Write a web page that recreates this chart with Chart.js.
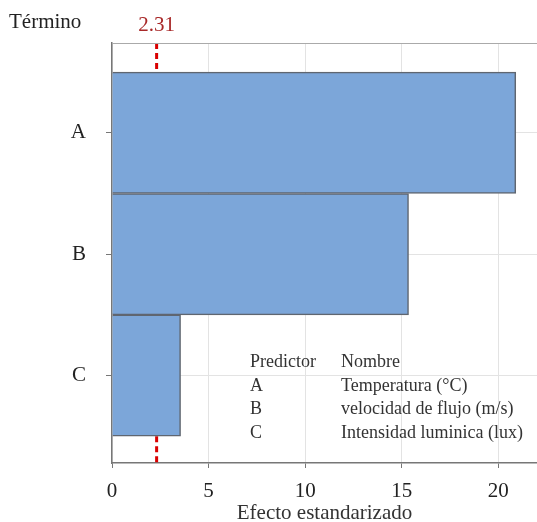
<!DOCTYPE html>
<html>
<head>
<meta charset="utf-8">
<script src="https://cdn.jsdelivr.net/npm/chart.js@4"></script>
<style>
  html, body { margin: 0; padding: 0; background: #fff; }
  #wrap { width: 537px; height: 522px; }
</style>
</head>
<body>
<div id="wrap"><canvas id="chartCanvas" width="537" height="522"></canvas></div>
<script>
// terms and standardized effects
const terms = ["A", "B", "C"];
const effects = [20.9, 15.35, 3.55];
const refValue = 2.31;
const xTicks = [0, 5, 10, 15, 20];

// predictor legend table
const predictors = ["A", "B", "C"];
const predictorNames = ["Temperatura (°C)", "velocidad de flujo (m/s)", "Intensidad luminica (lux)"];

const serif = "'Liberation Serif', 'Times New Roman', serif";

const points = effects.map(function (v, i) { return { x: v, y: i }; });

// dashed reference line, only where the bars don't cover it
const refLine = {
    id: "refLine",
    beforeDatasetsDraw(chart) {
        const ctx = chart.ctx;
        const area = chart.chartArea;
        const x = chart.scales.x.getPixelForValue(refValue);
        const bars = chart.getDatasetMeta(0).data;
        const first = bars[0], last = bars[bars.length - 1];
        const topEnd = first.y - first.height / 2;
        const botStart = last.y + last.height / 2;
        ctx.save();
        ctx.strokeStyle = "#d90000";
        ctx.lineWidth = 3;
        ctx.setLineDash([6, 4]);
        ctx.beginPath();
        ctx.moveTo(x, area.top);
        ctx.lineTo(x, topEnd);
        ctx.stroke();
        ctx.beginPath();
        ctx.moveTo(x, botStart);
        ctx.lineTo(x, area.bottom);
        ctx.stroke();
        ctx.restore();
    },
    afterDraw(chart) {
        const ctx = chart.ctx;
        const area = chart.chartArea;
        const x = chart.scales.x.getPixelForValue(refValue);
        ctx.save();
        // top frame line
        ctx.strokeStyle = "#aaa";
        ctx.lineWidth = 1;
        ctx.beginPath();
        ctx.moveTo(area.left, area.top + 0.5);
        ctx.lineTo(area.right, area.top + 0.5);
        ctx.stroke();

        ctx.textBaseline = "middle";
        ctx.font = "21px " + serif;
        ctx.fillStyle = "#a82828";
        ctx.textAlign = "center";
        ctx.fillText(refValue.toFixed(2), x, 25);

        ctx.fillStyle = "#222";
        ctx.textAlign = "left";
        ctx.fillText("Término", 9, 22);

        // legend table
        ctx.font = "18px " + serif;
        ctx.fillStyle = "#333";
        ctx.fillText("Predictor", 250, 362);
        ctx.fillText("Nombre", 341, 362);
        for (let i = 0; i < predictors.length; i++) {
            const y = 386 + i * 23.5;
            ctx.fillText(predictors[i], 250, y);
            ctx.fillText(predictorNames[i], 341, y);
        }
        ctx.restore();
    }
};

const config = {
    type: "bar",
    data: {
        datasets: [{
            label: "Efecto",
            data: points,
            backgroundColor: "#7ca6d9",
            borderColor: "#5f6670",
            borderWidth: 1.5,
            barPercentage: 1,
            categoryPercentage: 1
        }]
    },
    options: {
        indexAxis: "y",
        responsive: false,
        animation: false,
        layout: { padding: { top: 43, right: 0, left: 0, bottom: 0 } },
        plugins: { legend: { display: false }, tooltip: { enabled: false } },
        scales: {
            x: {
                type: "linear",
                min: 0,
                max: 22,
                offset: false,
                afterFit(scale) { scale.height = 59; },
                afterBuildTicks(scale) { scale.ticks = xTicks.map(function (v) { return { value: v }; }); },
                ticks: { font: { family: serif, size: 21 }, color: "#222", padding: 11 },
                grid: { color: "#e3e3e3", tickColor: "#777", tickLength: 5, offset: false },
                border: { color: "#777", width: 1.5 },
                title: {
                    display: true,
                    text: "Efecto estandarizado",
                    font: { family: serif, size: 21 },
                    color: "#333",
                    padding: { top: 0, bottom: -4 }
                }
            },
            y: {
                type: "linear",
                reverse: true,
                offset: false,
                min: -0.74,
                max: 2.72,
                afterFit(scale) { scale.width = 112; },
                afterBuildTicks(scale) { scale.ticks = terms.map(function (t, i) { return { value: i }; }); },
                ticks: {
                    font: { family: serif, size: 21 },
                    color: "#222",
                    padding: 20,
                    callback: function (v) { return terms[v]; }
                },
                grid: { color: "#e3e3e3", tickColor: "#777", tickLength: 6, offset: false },
                border: { color: "#777", width: 1.5 }
            }
        }
    },
    plugins: [refLine]
};

let myChart = new Chart(document.getElementById("chartCanvas"), config);
</script>
</body>
</html>
